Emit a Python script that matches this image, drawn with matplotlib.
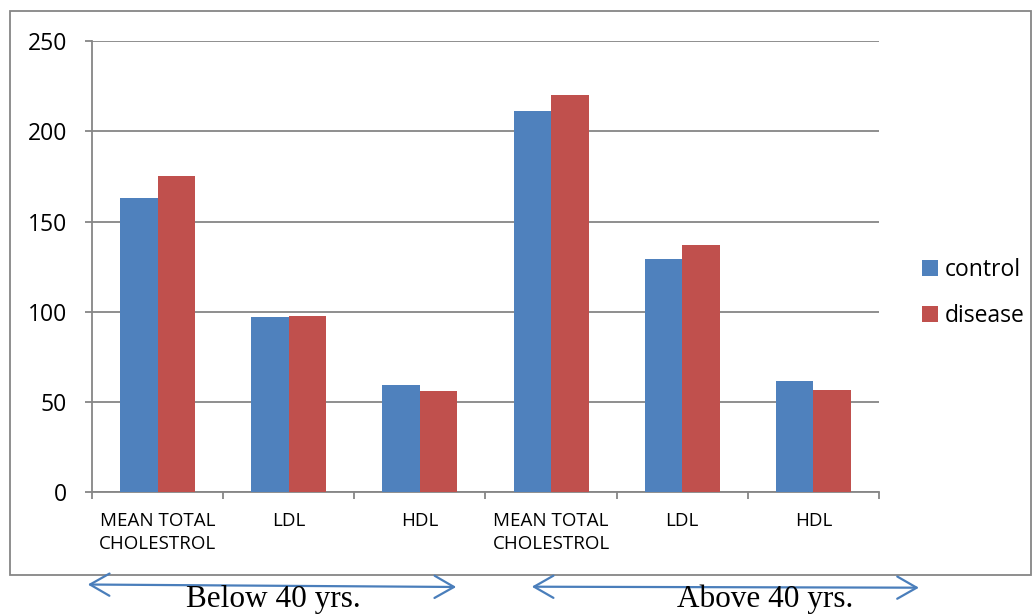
import matplotlib
matplotlib.use("Agg")
import matplotlib.pyplot as plt
import numpy as np
from matplotlib.patches import Rectangle, FancyArrowPatch

# lipid profile by age group (mg/dl)
categories = ["MEAN TOTAL\nCHOLESTROL", "LDL", "HDL",
              "MEAN TOTAL\nCHOLESTROL", "LDL", "HDL"]
control = [163, 97, 59.3, 211, 129, 61.5]
disease = [175.2, 97.7, 56.1, 220.3, 137, 56.8]
series_names = ["control", "disease"]
age_groups = ["Below 40 yrs.", "Above 40 yrs."]
y_ticks = [0, 50, 100, 150, 200, 250]

BLUE = "#4F81BD"
RED = "#C0504D"
GRID = "#868686"
ARROW = "#4A7EBB"

W, H = 1033, 615
fig = plt.figure(figsize=(W / 100, H / 100), dpi=100)


def px(x, y):
    """pixel coords (top-left origin) -> figure fraction"""
    return x / W, 1 - y / H


# outer chart frame
fig.patches.append(Rectangle(px(10, 575), (1031 - 10) / W, (575 - 11) / H,
                             transform=fig.transFigure, fill=False,
                             edgecolor=GRID, lw=1.3))

ax = fig.add_axes([92 / W, 1 - 492.3 / H, (879 - 92) / W, (492.3 - 41) / H])
x = np.arange(len(categories))
bw = 0.286
ax.bar(x - bw / 2, control, bw, color=BLUE, label=series_names[0], zorder=3)
ax.bar(x + bw / 2, disease, bw, color=RED, label=series_names[1], zorder=3)

ax.set_xlim(-0.5, len(categories) - 0.5)
ax.set_ylim(0, 250)
ax.set_yticks(y_ticks)
ax.set_yticklabels([str(v) for v in y_ticks], fontsize=16.5,
                   family="Open Sans")
ax.yaxis.grid(True, color=GRID, lw=1.3, zorder=0)
ax.set_axisbelow(True)

ax.set_xticks(x)
ax.set_xticklabels(categories, fontsize=13.5, family="Open Sans",
                   linespacing=1.4)
ax.set_xticks(np.arange(-0.5, len(categories)), minor=True)
ax.tick_params(axis="x", which="major", length=0, pad=14)
ax.tick_params(axis="x", which="minor", length=5, width=1.3, color=GRID,
               direction="out")
ax.tick_params(axis="y", length=5, width=1.3, color=GRID, pad=13)

for side in ["top", "right"]:
    ax.spines[side].set_visible(False)
for side in ["left", "bottom"]:
    ax.spines[side].set_color(GRID)
    ax.spines[side].set_linewidth(1.3)

ax.legend(loc="center left", bbox_to_anchor=(913 / W, 1 - 293 / H),
          bbox_transform=fig.transFigure, frameon=False,
          prop={"family": "Open Sans", "size": 16.5},
          handlelength=0.7, handleheight=0.7, handletextpad=0.3,
          labelspacing=1.0, borderaxespad=0)

# age-group span arrows and captions
spans = [((85, 584.5), (459, 587)), ((529, 586.7), (921.7, 587.7))]
for p0, p1 in spans:
    arr = FancyArrowPatch(px(*p0), px(*p1), transform=fig.transFigure,
                          arrowstyle="<->,head_length=14,head_width=8",
                          color=ARROW, lw=1.6, mutation_scale=1)
    fig.patches.append(arr)
cx = [273, 765]
for c, label in zip(cx, age_groups):
    fig.text(*px(c, 607), label, ha="center", va="baseline",
             family="Liberation Serif", fontsize=22.5)

fig.savefig("out.png", dpi=100)
